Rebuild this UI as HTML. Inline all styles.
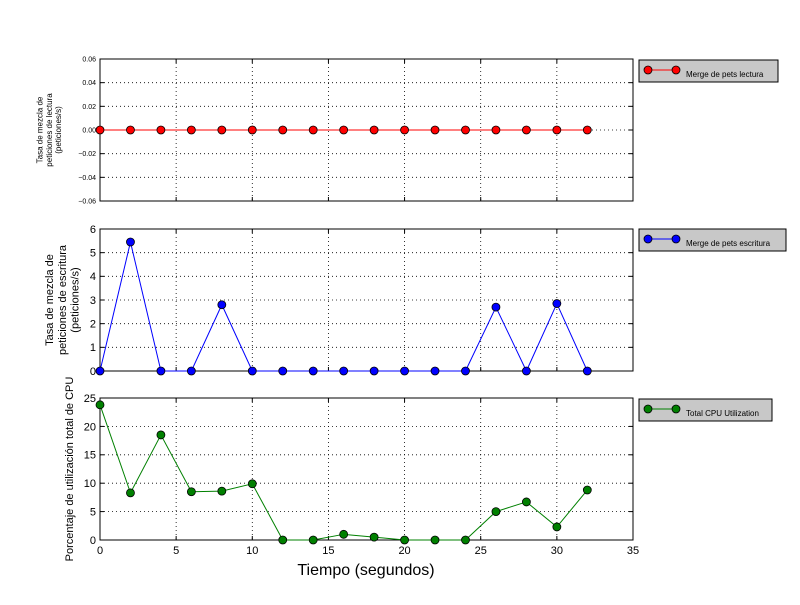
<!DOCTYPE html>
<html><head><meta charset="utf-8"><style>
body{margin:0;background:#fff;}
svg{font-family:"Liberation Sans","DejaVu Sans",sans-serif;}
</style></head><body>
<svg id="c" width="800" height="600" xmlns="http://www.w3.org/2000/svg"></svg>
<script>
const xValues=[0,2,4,6,8,10,12,14,16,18,20,22,24,26,28,30,32];
const readValues=[0,0,0,0,0,0,0,0,0,0,0,0,0,0,0,0,0];
const writeValues=[0,5.45,0,0,2.8,0,0,0,0,0,0,0,0,2.7,0,2.85,0];
const cpuValues=[23.8,8.3,18.5,8.5,8.6,9.9,0,0,1.0,0.5,0,0,0,5.0,6.7,2.3,8.8];
const xTicks=[0,5,10,15,20,25,30,35];
const readTicks=[-0.06,-0.04,-0.02,0.00,0.02,0.04,0.06];
const writeTicks=[0,1,2,3,4,5,6];
const cpuTicks=[0,5,10,15,20,25];
const NS="http://www.w3.org/2000/svg";
const svg=document.getElementById('c');
function el(t,a,p){const e=document.createElementNS(NS,t);for(const k in a)e.setAttribute(k,a[k]);(p||svg).appendChild(e);return e;}
const X0=100,X1=633;
function xs(v){return X0+(v-0)/35*(X1-X0);}
const panels=[
 {name:'read',top:59,bot:201,min:-0.06,max:0.06,ticks:readTicks,fmt:v=>v.toFixed(2).replace('-','\u2212'),data:readValues,color:'#ff0000',tickFont:7,
  label:['Tasa de mezcla de','peticiones de lectura','(peticiones/s)'],labFont:8,labX:49,
  legend:'Merge de pets lectura',lx:639,ly:60,lw:139},
 {name:'write',top:229,bot:371,min:0,max:6,ticks:writeTicks,fmt:v=>String(v),data:writeValues,color:'#0000ff',tickFont:11,
  label:['Tasa de mezcla de','peticiones de escritura','(peticiones/s)'],labFont:11,labX:62,
  legend:'Merge de pets escritura',lx:639,ly:229,lw:147},
 {name:'cpu',top:398,bot:540,min:0,max:25,ticks:cpuTicks,fmt:v=>String(v),data:cpuValues,color:'#008000',tickFont:11,
  label:['Porcentaje de utilización total de CPU'],labFont:11,labX:69,
  legend:'Total CPU Utilization',lx:639,ly:399,lw:133}
];
panels.forEach((p,pi)=>{
 const ys=v=>p.bot-(v-p.min)/(p.max-p.min)*(p.bot-p.top);
 const g=el('g',{});
 
 
 xTicks.forEach(t=>{if(t>0&&t<35){const l=el('line',{x1:xs(t),x2:xs(t),y1:p.top,y2:p.bot,stroke:'#000','stroke-width':0.8,'stroke-dasharray':'1,3'},g);}});
 p.ticks.forEach((t,i)=>{const y=ys(t);
  if(i>0&&i<p.ticks.length-1){const l=el('line',{x1:X0,x2:X1,y1:y,y2:y,stroke:'#000','stroke-width':0.8,'stroke-dasharray':'1,3'},g);}
  el('line',{x1:X0,x2:X0+4,y1:y,y2:y,stroke:'#000'},g);el('line',{x1:X1,x2:X1-4,y1:y,y2:y,stroke:'#000'},g);
  const tx=el('text',{x:X0-4,y:y+p.tickFont*0.35,'font-size':p.tickFont,'text-anchor':'end'},g);tx.textContent=p.fmt(t);
  
 });
 xTicks.forEach(t=>{el('line',{x1:xs(t),x2:xs(t),y1:p.bot,y2:p.bot-4,stroke:'#000'},g);el('line',{x1:xs(t),x2:xs(t),y1:p.top,y2:p.top+4,stroke:'#000'},g);
  if(pi==2){const tx=el('text',{x:xs(t),y:p.bot+14,'font-size':11,'text-anchor':'middle'},g);tx.textContent=t;}});
 const fr=el('rect',{x:X0,y:p.top,width:X1-X0,height:p.bot-p.top,fill:'none',stroke:'#000','stroke-width':1},g);
 
 const pts=p.data.map((v,i)=>xs(xValues[i])+','+ys(v)).join(' ');
 const pl=el('polyline',{points:pts,fill:'none',stroke:p.color,'stroke-width':1},g);
 
 p.data.forEach((v,i)=>{const c=el('circle',{cx:xs(xValues[i]),cy:ys(v),r:4,fill:p.color,stroke:'#000','stroke-width':0.8},g);
  });
 const cy=(p.top+p.bot)/2, n=p.label.length, lh=p.labFont*1.15;
 const lt=el('text',{transform:`translate(${p.labX},${cy}) rotate(-90)`,'font-size':p.labFont,'text-anchor':'middle'},g);
 
 p.label.forEach((s,i)=>{const ts=el('tspan',{x:0,y:(i-(n-1)/2)*lh+p.labFont*0.35},lt);ts.textContent=s;});
 const lg=el('g',{},g);
 el('rect',{x:p.lx,y:p.ly,width:p.lw,height:22,fill:'#c8c8c8',stroke:'#000','stroke-width':1},lg);
 el('line',{x1:p.lx+9,x2:p.lx+37,y1:p.ly+10,y2:p.ly+10,stroke:p.color},lg);
 el('circle',{cx:p.lx+9,cy:p.ly+10,r:4,fill:p.color,stroke:'#000','stroke-width':0.8},lg);
 el('circle',{cx:p.lx+37,cy:p.ly+10,r:4,fill:p.color,stroke:'#000','stroke-width':0.8},lg);
 const ltx=el('text',{x:p.lx+47,y:p.ly+17,'font-size':8},lg);ltx.textContent=p.legend;
});
const xt=el('text',{x:366,y:575,'font-size':16,'text-anchor':'middle'});xt.textContent='Tiempo (segundos)';

</script>
</body></html>
